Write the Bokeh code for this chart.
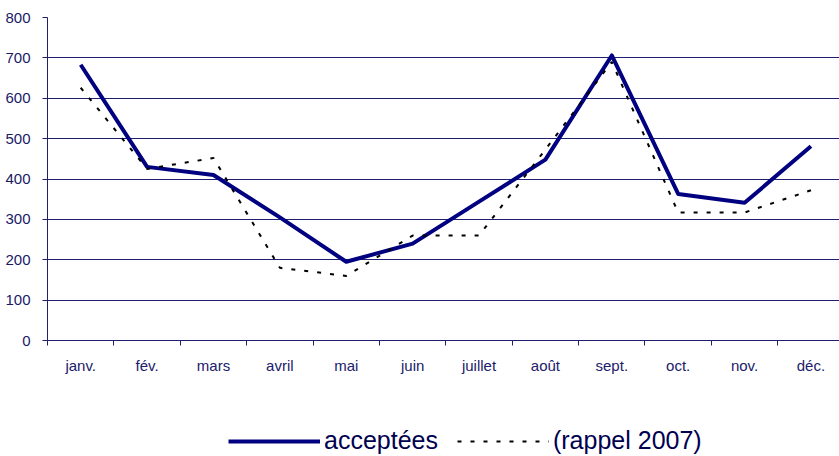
from bokeh.plotting import figure
from bokeh.layouts import column
from bokeh.models import FixedTicker, Legend, LegendItem, Range1d
from bokeh.embed import file_html
from bokeh.resources import INLINE

months = ["janv.", "fév.", "mars", "avril", "mai", "juin", "juillet", "août",
          "sept.", "oct.", "nov.", "déc."]
acceptees = [683, 430, 410, 305, 195, 240, 344, 448, 706, 363, 341, 481]
rappel_2007 = [626, 425, 452, 180, 160, 260, 260, 473, 690, 317, 317, 372]
y_ticks = [0, 100, 200, 300, 400, 500, 600, 700, 800]
series_labels = ["acceptées", "(rappel 2007)"]

NAVY = "#000080"
GRID = "#1f1f70"
FONT = "Liberation Sans"

xs = [i + 0.5 for i in range(len(months))]
bounds = list(range(len(months) + 1))

p = figure(width=839, height=380, output_backend="svg", toolbar_location=None,
           x_range=Range1d(0, 11.93), y_range=Range1d(0, 800),
           min_border_left=47, min_border_right=0, min_border_top=17,
           min_border_bottom=40)
p.outline_line_color = None
p.background_fill_color = "white"
p.border_fill_color = "white"

p.xgrid.visible = False
p.ygrid.ticker = FixedTicker(ticks=y_ticks)
p.ygrid.grid_line_color = GRID
p.ygrid.grid_line_width = 1

p.yaxis.ticker = FixedTicker(ticks=y_ticks)
p.yaxis.axis_line_color = GRID
p.yaxis.major_tick_line_color = GRID
p.yaxis.major_tick_out = 5
p.yaxis.major_tick_in = 0
p.yaxis.minor_tick_line_color = None
p.yaxis.major_label_standoff = 12
p.yaxis.major_label_text_font = FONT
p.yaxis.major_label_text_font_size = "15px"
p.yaxis.major_label_text_color = "#1a1a66"

p.xaxis.ticker = FixedTicker(ticks=xs, minor_ticks=bounds)
p.xaxis.major_label_overrides = {x: m for x, m in zip(xs, months)}
p.xaxis.axis_line_color = GRID
p.xaxis.major_tick_line_color = None
p.xaxis.major_tick_out = 5
p.xaxis.major_tick_in = 0
p.xaxis.minor_tick_line_color = GRID
p.xaxis.minor_tick_out = 5
p.xaxis.minor_tick_in = 0
p.xaxis.major_label_standoff = 11
p.xaxis.major_label_text_font = FONT
p.xaxis.major_label_text_font_size = "15px"
p.xaxis.major_label_text_color = "#20206a"

p.line(xs, acceptees, line_color=NAVY, line_width=4, line_join="round")
p.line(xs, rappel_2007, line_color="black", line_width=2, line_dash="4 9")

# legend strip below the chart (series drawn out of its visible range,
# only their legend glyphs show)
lg = figure(width=839, height=76, output_backend="svg", toolbar_location=None,
            x_axis_type=None, y_axis_type=None,
            x_range=Range1d(0, 1), y_range=Range1d(-2000, -1000),
            min_border_left=0, min_border_right=0, min_border_top=0,
            min_border_bottom=0)
lg.outline_line_color = None
lg.xgrid.visible = False
lg.ygrid.visible = False
g1 = lg.line(xs, acceptees, line_color=NAVY, line_width=4)
g2 = lg.line(xs, rappel_2007, line_color="black", line_width=2, line_dash="4 9")

legend = Legend(items=[LegendItem(label=series_labels[0], renderers=[g1]),
                       LegendItem(label=series_labels[1], renderers=[g2])],
                orientation="horizontal", location=(181, 1),
                glyph_width=92, glyph_height=26, label_height=26,
                label_standoff=4, spacing=19, padding=0, margin=0,
                border_line_color=None, background_fill_alpha=0,
                label_text_font=FONT, label_text_font_size="25px",
                label_text_color="#000050")
lg.add_layout(legend, "center")

layout = column(p, lg, spacing=0)
open("out.html", "w").write(file_html(layout, INLINE))
